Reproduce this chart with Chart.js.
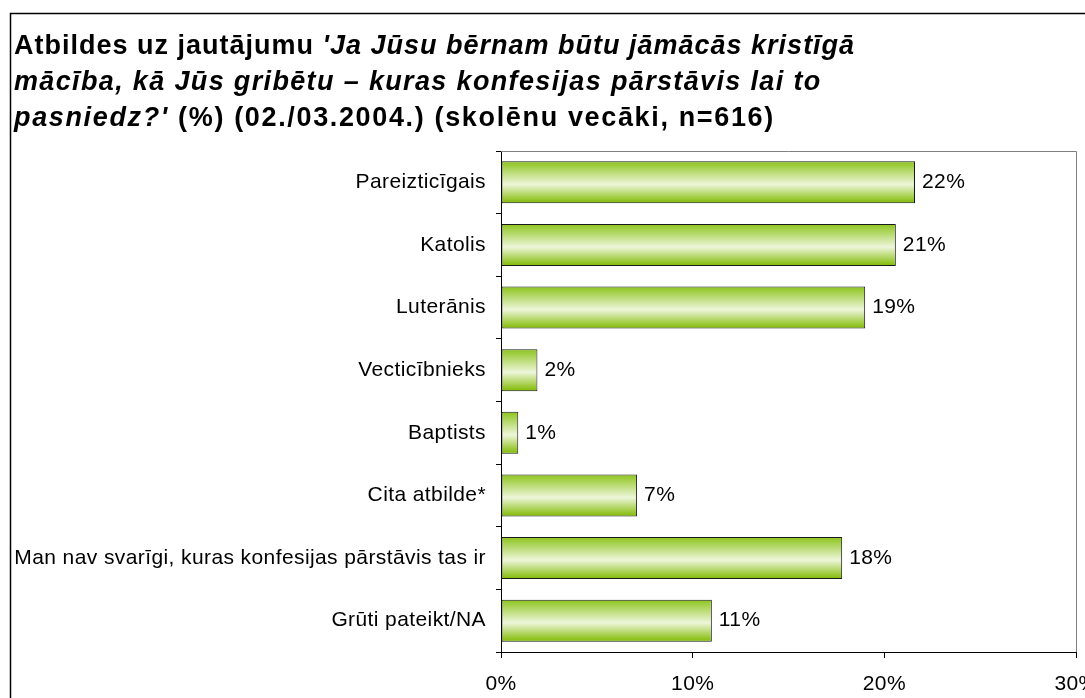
<!DOCTYPE html>
<html>
<head>
<meta charset="utf-8">
<script src="https://cdn.jsdelivr.net/npm/chart.js@4.4.1/dist/chart.umd.min.js"></script>
<style>
    html, body { margin: 0; padding: 0; background: #fff; overflow: hidden; }
    .myGraph { width: 1130px; height: 698px; }
</style>
</head>
<body>
<div class="myGraph">
    <canvas id="myChart" width="1130" height="698"></canvas>
</div>
<script>
const categories = [
    'Pareizticīgais',
    'Katolis',
    'Luterānis',
    'Vecticībnieks',
    'Baptists',
    'Cita atbilde*',
    'Man nav svarīgi, kuras konfesijas pārstāvis tas ir',
    'Grūti pateikt/NA'
];
// bar lengths, labels as printed
const shares = [21.6, 20.6, 19.0, 1.9, 0.9, 7.1, 17.8, 11.0];
const shareLabels = ['22%', '21%', '19%', '2%', '1%', '7%', '18%', '11%'];
const tickValues = [0, 10, 20, 30];

const titleLines = [
    [['bold', 'Atbildes uz jautājumu '], ['italic bold', '\'Ja Jūsu bērnam būtu jāmācās kristīgā']],
    [['italic bold', 'mācība, kā Jūs gribētu – kuras konfesijas pārstāvis lai to']],
    [['italic bold', 'pasniedz?\''], ['bold', ' (%) (02./03.2004.) (skolēnu vecāki, n=616)']]
];
// the original title is set loosely, a little looser on each line
const titleSpacing = [1, 1.35, 1.65];

const FONT = '"Liberation Sans", Arial, sans-serif';
const barShare = 0.67;

// frame, title and the grey top/right edge of the plot box
const decorations = {
    id: 'decorations',
    beforeDraw(chart) {
        const ctx = chart.ctx;
        ctx.save();
        ctx.strokeStyle = '#000';
        ctx.lineWidth = 1.5;
        ctx.strokeRect(10.5, 13.5, 2000, 2000);

        ctx.fillStyle = '#000';
        ctx.textBaseline = 'alphabetic';
        titleLines.forEach((line, i) => {
            let x = 14;
            const y = 54 + i * 36;
            ctx.letterSpacing = titleSpacing[i] + 'px';
            line.forEach(([style, text]) => {
                ctx.font = style + ' 27px ' + FONT;
                ctx.fillText(text, x, y);
                x += ctx.measureText(text).width;
            });
        });
        ctx.restore();
        // slightly wider spacing for the axis and value labels, as in the original
        ctx.letterSpacing = '0.4px';
    },
    beforeDatasetsDraw(chart) {
        const a = chart.chartArea;
        const ctx = chart.ctx;
        ctx.save();
        ctx.strokeStyle = '#808080';
        ctx.lineWidth = 1;
        ctx.beginPath();
        ctx.moveTo(a.left, a.top + 0.5);
        ctx.lineTo(a.right + 0.5, a.top + 0.5);
        ctx.lineTo(a.right + 0.5, a.bottom);
        ctx.stroke();
        ctx.restore();
    },
    afterDatasetsDraw(chart) {
        const ctx = chart.ctx;
        const meta = chart.getDatasetMeta(0);
        ctx.save();
        ctx.fillStyle = '#000';
        ctx.font = '21px ' + FONT;
        ctx.textBaseline = 'middle';
        ctx.textAlign = 'left';
        meta.data.forEach((bar, i) => {
            ctx.fillText(shareLabels[i], bar.x + 7, bar.y);
        });
        ctx.restore();
    }
};

function barGradient(c) {
    const chart = c.chart;
    const yScale = chart.scales.y;
    if (!yScale || !chart.chartArea || c.dataIndex === undefined) return '#9c3';
    const center = yScale.getPixelForValue(c.dataIndex);
    const half = (chart.chartArea.bottom - chart.chartArea.top) / categories.length * barShare / 2;
    const g = chart.ctx.createLinearGradient(0, center - half, 0, center + half);
    g.addColorStop(0, '#8cc41c');
    g.addColorStop(0.55, '#eef6da');
    g.addColorStop(1, '#7fba00');
    return g;
}

const myChartRef = document.getElementById('myChart').getContext('2d');

new Chart(myChartRef, {
    type: 'bar',
    data: {
        labels: categories,
        datasets: [{
            data: shares,
            backgroundColor: barGradient,
            borderColor: '#1a1a1a',
            borderWidth: 1,
            borderSkipped: false,
            barPercentage: barShare,
            categoryPercentage: 1
        }]
    },
    options: {
        indexAxis: 'y',
        responsive: false,
        animation: false,
        devicePixelRatio: 1,
        layout: { padding: { left: 0, top: 151, right: 54, bottom: 0 } },
        plugins: {
            legend: { display: false },
            title: { display: false },
            tooltip: { enabled: false }
        },
        scales: {
            x: {
                min: 0,
                max: 30,
                afterFit(s) { s.height = 698 - 652; },
                afterBuildTicks(s) { s.ticks = tickValues.map(v => ({ value: v })); },
                grid: { drawOnChartArea: false, tickLength: 6, color: '#000' },
                border: { color: '#000', width: 1 },
                ticks: {
                    color: '#000',
                    padding: 14,
                    font: { family: FONT, size: 21 },
                    callback: v => v + '%'
                }
            },
            y: {
                afterFit(s) { s.width = 501; },
                grid: { drawOnChartArea: false, offset: true, tickLength: 5, color: '#000' },
                border: { color: '#000', width: 1 },
                ticks: {
                    color: '#000',
                    padding: 10,
                    font: { family: FONT, size: 21 }
                }
            }
        }
    },
    plugins: [decorations]
});
</script>
</body>
</html>
